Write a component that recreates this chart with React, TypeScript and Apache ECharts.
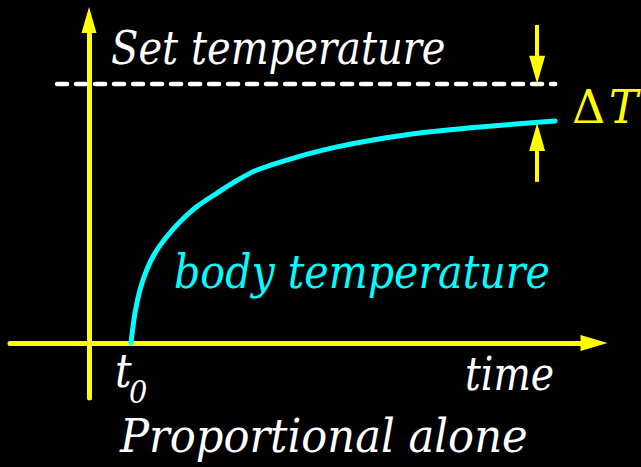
import React, { useEffect, useRef } from "react";
import * as echarts from "echarts";

// Body temperature curve (time in units where t0 = 1, temperature normalised so set point = 1)
const curveTime = [1, 1.095, 1.214, 1.374, 1.571, 1.85, 2.167, 2.564, 3.04, 3.476, 4.0, 4.952, 5.905, 6.762, 7.881, 9.31, 11.095];
const bodyTemp = [0, 0.116, 0.205, 0.282, 0.347, 0.41, 0.468, 0.526, 0.578, 0.623, 0.668, 0.718, 0.757, 0.784, 0.811, 0.834, 0.857];

// Set temperature dashed line
const setTemp = 1;
const setLineTime = [-0.76, 11.1];

// ΔT arrows (x position, start value, head value)
const deltaArrowTime = 10.67;
const upperArrowTemp = [1.228, 1.055];
const lowerArrowTemp = [0.622, 0.795];

// Axis ranges
const timeRange = [-1.881, 12.024];
const tempRange = [-0.2124, 1.2471];

// Texts
const setLabel = "Set temperature";
const bodyLabel = "body temperature";
const timeLabel = "time";
const t0Label = ["t", "0"];
const titleLabel = "Proportional alone";
const deltaLabel = ["Δ", "T"];

const YELLOW = "#ffff00";
const CYAN = "#00ffff";
const WHITE = "#ffffff";
const SERIF = "DejaVu Serif";

export default function App() {
  const ref = useRef<HTMLDivElement>(null);
  useEffect(() => {
    if (!ref.current) return;
    const chart = echarts.init(ref.current, undefined, { renderer: "svg" });
    const txt = (
      text: string,
      x: number,
      y: number,
      size: number,
      color: string,
      scaleX: number,
      italic = true
    ) => ({
      type: "text",
      x,
      y,
      scaleX,
      style: {
        text,
        fill: color,
        fontSize: size,
        fontFamily: SERIF,
        fontStyle: italic ? "italic" : "normal",
        align: "left",
        verticalAlign: "middle",
      },
      silent: true,
    });
    chart.setOption({
      animation: false,
      backgroundColor: "#000000",
      grid: { left: 10, right: 47, top: 20, bottom: 69, outerBoundsMode: "none", containLabel: false },
      xAxis: {
        type: "value",
        min: timeRange[0],
        max: timeRange[1],
        axisLine: {
          show: true,
          onZero: true,
          symbol: ["none", "triangle"],
          symbolSize: [16, 27],
          lineStyle: { color: YELLOW, width: 5 },
        },
        axisTick: { show: false },
        axisLabel: { show: false },
        splitLine: { show: false },
      },
      yAxis: {
        type: "value",
        min: tempRange[0],
        max: tempRange[1],
        axisLine: {
          show: true,
          onZero: true,
          symbol: ["none", "triangle"],
          symbolSize: [15, 26],
          lineStyle: { color: YELLOW, width: 5 },
        },
        axisTick: { show: false },
        axisLabel: { show: false },
        splitLine: { show: false },
      },
      series: [
        {
          type: "line",
          data: setLineTime.map((t) => [t, setTemp]),
          showSymbol: false,
          silent: true,
          lineStyle: { color: WHITE, width: 4.5, type: [10, 9], cap: "round" },
          markLine: {
            silent: true,
            symbol: ["none", "triangle"],
            symbolSize: [16, 28],
            label: { show: false },
            lineStyle: { color: YELLOW, width: 4, type: "solid" },
            emphasis: { disabled: true },
            data: [
              [{ coord: [deltaArrowTime, upperArrowTemp[0]] }, { coord: [deltaArrowTime, upperArrowTemp[1]] }],
              [{ coord: [deltaArrowTime, lowerArrowTemp[0]] }, { coord: [deltaArrowTime, lowerArrowTemp[1]] }],
            ],
          },
        },
        {
          type: "line",
          data: curveTime.map((t, i) => [t, bodyTemp[i]]),
          smooth: 0.3,
          showSymbol: false,
          silent: true,
          lineStyle: { color: CYAN, width: 5, cap: "round" },
        },
      ],
      graphic: [
        txt(setLabel, 111, 48, 46, WHITE, 0.87),
        txt(bodyLabel, 174, 272, 46, CYAN, 0.895),
        txt(timeLabel, 465, 374, 46, WHITE, 0.857),
        txt(t0Label[0], 115, 371, 46, WHITE, 0.9),
        txt(t0Label[1], 129, 392, 32, WHITE, 0.9),
        txt(titleLabel, 120, 437, 46, WHITE, 0.94),
        txt(deltaLabel[0], 572, 107, 46, YELLOW, 1, false),
        txt(deltaLabel[1], 609, 107, 46, YELLOW, 0.95),
      ],
    });
    return () => chart.dispose();
  }, []);
  return (
    <div
      ref={ref}
      style={{ position: "fixed", left: 0, top: 0, width: 641, height: 467, background: "#000" }}
    />
  );
}
